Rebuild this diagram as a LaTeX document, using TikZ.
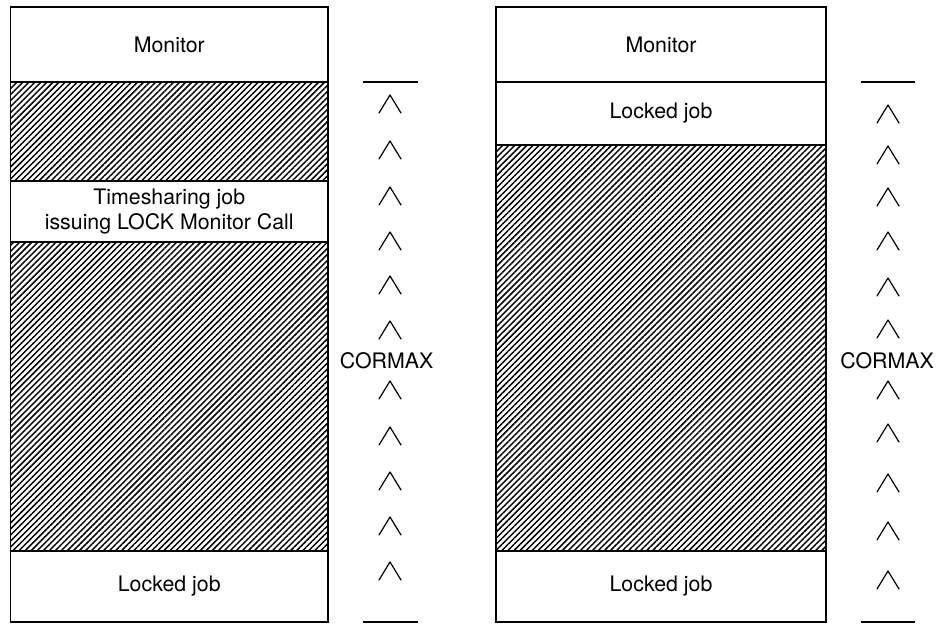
\documentclass[tikz,border=0pt]{standalone}
\usepackage{fontspec}
\setmainfont{TeX Gyre Heros}
\usepackage{tikz}
\usetikzlibrary{positioning}
\usetikzlibrary{patterns.meta}

\tikzset{
  block/.style={draw, line width=1.1pt, inner sep=0pt, outer sep=0pt, anchor=north west,
    align=center, font=\fontsize{16}{19}\selectfont},
  hatched/.style={block, pattern={Lines[angle=45,distance=3.2pt,line width=1.1pt]}},
  leftcol/.style={minimum width=238.125pt},
  rightcol/.style={minimum width=247.5pt},
  scaleline/.style={line width=1.1pt},
  caret/.style={line width=0.9pt, line join=round, line cap=round},
  cormax/.style={font=\fontsize{16}{19}\selectfont, inner sep=0pt}
}

\begin{document}
\begin{tikzpicture}[x=0.75pt,y=0.75pt]
  \useasboundingbox (0,0) rectangle (938,624);

  % left memory map
  \node[block, leftcol, minimum height=56.25pt] (monL) at (10.5,617) {Monitor};
  \node[hatched, leftcol, minimum height=74.25pt, below=0pt of monL] (freeLa) {};
  \node[block, leftcol, minimum height=45.75pt, below=0pt of freeLa] (tsL)
    {Timesharing job\\issuing LOCK Monitor Call};
  \node[hatched, leftcol, minimum height=231.75pt, below=0pt of tsL] (freeLb) {};
  \node[block, leftcol, minimum height=53.25pt, below=0pt of freeLb] (lockL) {Locked job};

  % right memory map
  \node[block, rightcol, minimum height=56.25pt] (monR) at (496,617) {Monitor};
  \node[block, rightcol, minimum height=47.25pt, below=0pt of monR] (lockRa) {Locked job};
  \node[hatched, rightcol, minimum height=304.5pt, below=0pt of lockRa] (freeR) {};
  \node[block, rightcol, minimum height=53.25pt, below=0pt of freeR] (lockRb) {Locked job};

  % CORMAX scales
  \draw[scaleline] (363,542) -- (418,542);
  \draw[scaleline] (363,2) -- (418,2);
  \node[cormax] (cormaxL) at (386.5,263) {CORMAX};
  \foreach \y in {520,474,428,383,339,294,234,188,143,98,53}
    \draw[caret] (379,\y-9) -- (390,\y+9) -- (401,\y-9);

  \draw[scaleline] (861,542) -- (915,542);
  \draw[scaleline] (861,2) -- (915,2);
  \node[cormax] (cormaxR) at (887,263) {CORMAX};
  \foreach \y in {510,469,427,383,337,295,234,191,141,93,44}
    \draw[caret] (877,\y-9) -- (888,\y+9) -- (899,\y-9);
\end{tikzpicture}
\end{document}
